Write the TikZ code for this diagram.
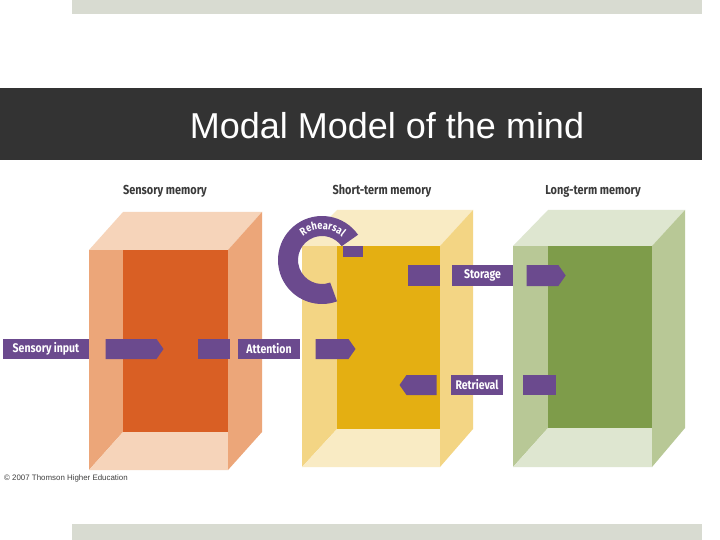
\documentclass[tikz,border=0pt]{standalone}
\usepackage{fontspec}
\usetikzlibrary{shapes.symbols,decorations.text,calc}
\newfontfamily\titlefont{Liberation Sans}
\newfontfamily\labfont[FakeStretch=0.84]{Fira Sans}
\definecolor{purp}{HTML}{6B4A8E}
\definecolor{darkbar}{HTML}{333333}
\definecolor{graybar}{HTML}{D8DBD1}
\definecolor{labgray}{HTML}{3A3A3A}
\definecolor{orL}{HTML}{F6D4BA}\definecolor{orM}{HTML}{ECA679}\definecolor{orD}{HTML}{D95F24}
\definecolor{yeL}{HTML}{F9EBC4}\definecolor{yeM}{HTML}{F3D584}\definecolor{yeD}{HTML}{E4AF12}
\definecolor{grL}{HTML}{DEE6D0}\definecolor{grM}{HTML}{B8C896}\definecolor{grD}{HTML}{7E9C4A}
% #1 xa, #2 xb, #3 xc, #4 xd, #5 ya, #6 yb, #7 yc, #8 yd, #9 colour prefix
\newcommand{\memcube}[9]{%
  \fill[#9L] (#1,#6) -- (#2,#5) -- (#4,#5) -- (#3,#6) -- cycle;
  \fill[#9M] (#1,#6) -- (#2,#6) -- (#2,#7) -- (#1,#8) -- cycle;
  \fill[#9D] (#2,#6) rectangle (#3,#7);
  \fill[#9L] (#1,#8) -- (#2,#7) -- (#3,#7) -- (#3,#8) -- cycle;
  \fill[#9M] (#3,#6) -- (#4,#5) -- (#4,#7) -- (#3,#8) -- cycle;
}
\tikzset{
  lab/.style={rectangle, fill=purp, text=white, inner sep=0pt,
    font=\labfont\bfseries\fontsize{12.5}{13}\selectfont},
  blk/.style={rectangle, fill=purp, inner sep=0pt},
  sig/.style={signal, fill=purp, inner sep=0pt, signal pointer angle=110},
  head/.style={text=labgray, font=\labfont\bfseries\fontsize{13}{14}\selectfont}
}
\begin{document}
\begin{tikzpicture}[x=1pt,y=-1pt]
\useasboundingbox (0,0) rectangle (720,540);
\fill[white] (0,0) rectangle (720,540);
% bars
\fill[graybar] (72,0) rectangle (702,14);
\fill[graybar] (72,524) rectangle (702,540);
\fill[darkbar] (0,88) rectangle (702,160);
\node[text=white, font=\titlefont\fontsize{36}{40}\selectfont] (title) at (387,126) {Modal Model of the mind};
% cubes
\memcube{89}{123}{228}{262}{212}{250}{432}{470}{or}
\memcube{302}{337}{440}{473}{210}{246}{429}{467}{ye}
\memcube{513}{548}{652}{685}{210}{246}{428}{467}{gr}
% headings
\node[head] (hs) at (165,191) {Sensory memory};
\node[head] (hst) at (382,191) {Short-term memory};
\node[head] (hlt) at (593,191) {Long-term memory};
% rehearsal loop
\coordinate (rc) at (322,260);
\fill[purp] ($(rc)+(-35:44)$) arc[start angle=-35, end angle=-290, radius=44]
  -- ($(rc)+(-290:24)$) arc[start angle=-290, end angle=-35, radius=24] -- cycle;
\path[decorate, decoration={text along path, text align=center,
  text={|\labfont\bfseries\fontsize{11}{12}\selectfont\color{white}|Rehearsal}}]
  ($(rc)+(-142:30.5)$) arc[start angle=-142, end angle=-36, radius=30.5];
\node[blk, minimum width=20pt, minimum height=11pt] (rb) at (353,251.5) {};
% input row
\node[lab, minimum width=86pt, minimum height=20pt] (sin) at (46,349) {Sensory input};
\node[sig, signal to=east, minimum width=58pt, minimum height=20pt] (a1) at (131,349) {};
\node[blk, minimum width=32pt, minimum height=20pt] (b1) at (214,349) {};
\node[lab, minimum width=62pt, minimum height=20pt] (att) at (269,349) {Attention};
\node[sig, signal to=east, minimum width=40pt, minimum height=20pt] (a2) at (332,349) {};
% storage row
\node[blk, minimum width=32pt, minimum height=21pt] (b2) at (424,275.5) {};
\node[lab, minimum width=61pt, minimum height=21pt] (sto) at (482.5,275.5) {Storage};
\node[sig, signal to=east, minimum width=39pt, minimum height=21pt] (a3) at (542.5,275.5) {};
% retrieval row
\node[sig, signal to=west, minimum width=37pt, minimum height=20pt] (a4) at (421.5,385) {};
\node[lab, minimum width=52pt, minimum height=20pt] (ret) at (477,385) {Retrieval};
\node[blk, minimum width=33pt, minimum height=20pt] (b3) at (539.5,385) {};
% copyright
\node[anchor=west, inner sep=0pt, text=black!75, font=\titlefont\fontsize{7.9}{8.5}\selectfont] (copy) at (4,478) {© 2007 Thomson Higher Education};
\end{tikzpicture}
\end{document}
